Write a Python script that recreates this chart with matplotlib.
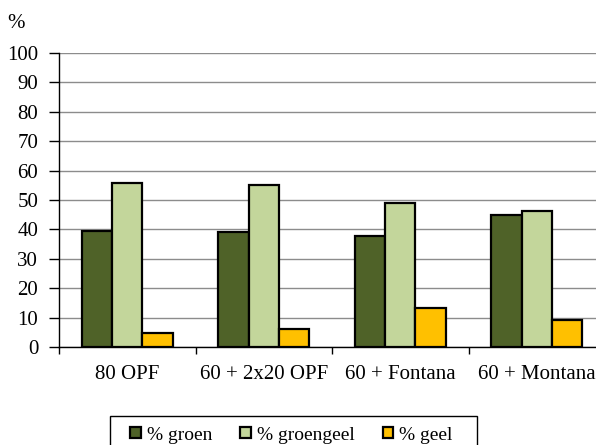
import numpy as np
import matplotlib.pyplot as plt
from matplotlib.patches import Rectangle

categories = ["80 OPF", "60 + 2x20 OPF", "60 + Fontana", "60 + Montana"]
groen = [39.4, 39.0, 37.7, 44.9]
groengeel = [55.7, 55.0, 49.1, 46.1]
geel = [4.9, 6.0, 13.4, 9.1]

series = [("% groen", groen, "#4F6228"),
          ("% groengeel", groengeel, "#C3D69B"),
          ("% geel", geel, "#FFC000")]

plt.rcParams['font.family'] = ['Liberation Serif', 'DejaVu Serif']

fig = plt.figure(figsize=(5.96, 4.45), dpi=100)
# right edge goes past the figure, the original is cropped there
ax = fig.add_axes([59 / 596, 1 - 347 / 445, (605 - 59) / 596, (347 - 53) / 445])

x = np.arange(len(categories))
w = 0.223
for i, (lab, vals, col) in enumerate(series):
    ax.bar(x + (i - 1) * w, vals, w, color=col, edgecolor="black",
           linewidth=1.6, label=lab, zorder=3)

ax.set_ylim(0, 100)
ax.set_xlim(-0.5, len(categories) - 0.5)
ax.set_yticks(range(0, 101, 10))
ax.yaxis.grid(True, color="#8c8c8c", linewidth=1.0, zorder=0)

# ticks on the category boundaries, labels in the middle
ax.set_xticks(np.arange(len(categories) + 1) - 0.5)
ax.set_xticklabels([])
ax.set_xticks(x, minor=True)
ax.set_xticklabels(categories, minor=True)
ax.tick_params(axis="x", which="major", length=5, width=1, direction="out")
ax.tick_params(axis="x", which="minor", length=0, pad=13, labelsize=15)
ax.tick_params(axis="y", length=7, width=1, direction="out", pad=8, labelsize=15)

for s in ["top", "right"]:
    ax.spines[s].set_visible(False)
ax.spines["left"].set_linewidth(1)
ax.spines["bottom"].set_linewidth(1)

fig.text(16 / 596, 1 - 23 / 445, "%", fontsize=15, ha="center", va="center")

# legend box, cut off at the bottom like the original
fig.patches.append(Rectangle((110 / 596, 1 - 452 / 445), 367 / 596, 36 / 445,
                             transform=fig.transFigure, facecolor="white",
                             edgecolor="black", linewidth=1, clip_on=False))
fig.legend(loc="center left", ncol=3, bbox_to_anchor=(130 / 596, 1 - 435 / 445),
           fontsize=14, frameon=False, handlelength=0.55, handleheight=0.55,
           handletextpad=0.3, columnspacing=1.45, borderaxespad=0, borderpad=0)

fig.savefig("out.png", dpi=100)
